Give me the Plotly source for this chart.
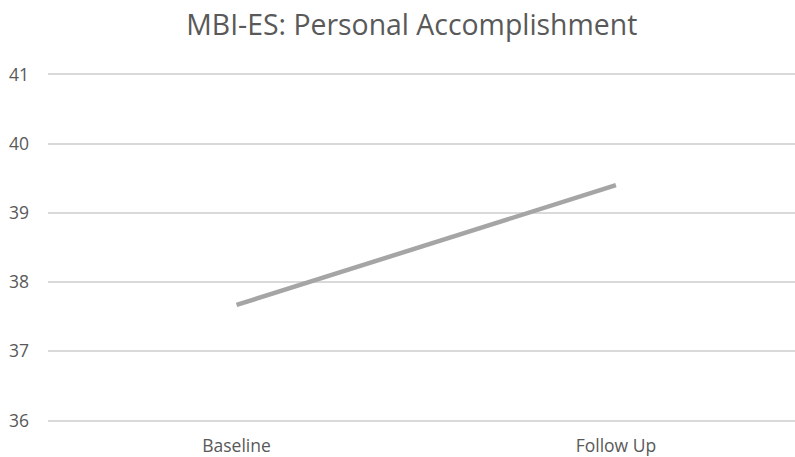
import plotly.graph_objects as go

# Survey time points and mean scores
categories = ["Baseline", "Follow Up"]
scores = [37.67, 39.40]
y_ticks = [36, 37, 38, 39, 40, 41]

x_pos = list(range(len(categories)))

fig = go.Figure()
fig.add_trace(go.Scatter(
    x=x_pos,
    y=scores,
    mode="lines",
    line=dict(color="#A5A5A5", width=4.5),
    hoverinfo="skip",
))

font_family = "Open Sans, Liberation Sans, sans-serif"

fig.update_layout(
    width=795,
    height=457,
    margin=dict(l=48, r=0, t=72.6, b=34.6),
    paper_bgcolor="white",
    plot_bgcolor="white",
    showlegend=False,
    font=dict(family=font_family, color="#595959", size=17),
    title=dict(
        text="MBI-ES: Personal Accomplishment",
        x=0.518,
        xanchor="center",
        y=0.945,
        yanchor="middle",
        font=dict(family=font_family, size=28.4, color="#595959"),
    ),
    xaxis=dict(
        range=[-0.497, 1.472],
        tickvals=x_pos,
        ticktext=categories,
        showgrid=False,
        zeroline=False,
        showline=False,
        ticks="",
        ticklabelstandoff=11,
        tickfont=dict(size=17.5, color="#595959"),
    ),
    yaxis=dict(
        # small padding so the gridlines at 36 and 41 are drawn
        range=[35.98, 41.02],
        tickvals=y_ticks,
        showgrid=True,
        gridcolor="#D9D9D9",
        gridwidth=1.5,
        zeroline=False,
        showline=False,
        ticks="",
        ticklabelstandoff=18,
        tickfont=dict(size=17.5, color="#595959"),
    ),
)

fig.write_html("out.html")
